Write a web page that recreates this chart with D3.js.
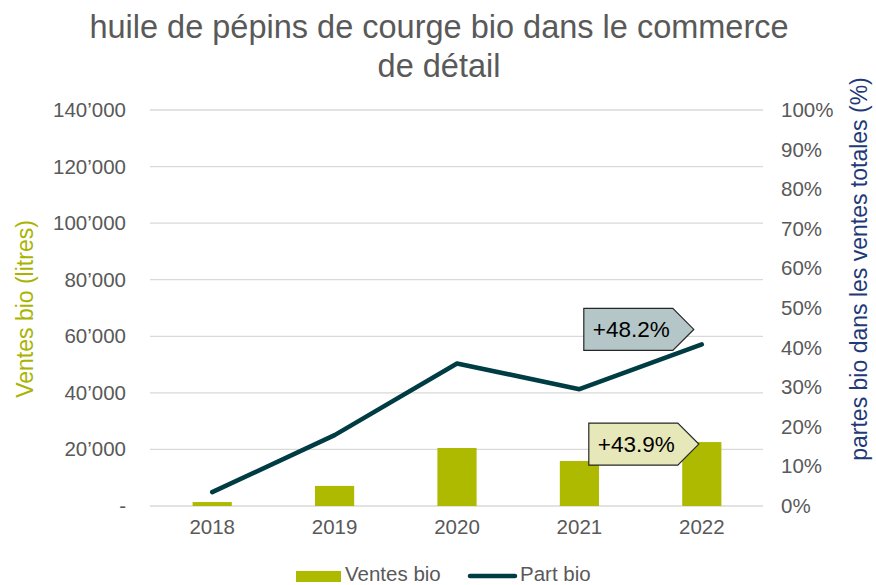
<!DOCTYPE html>
<html>
<head>
<meta charset="utf-8">
<script src="https://cdn.jsdelivr.net/npm/d3@7"></script>
<style>
  body { margin: 0; background: #fff; }
  text { font-family: "Liberation Sans", Arial, sans-serif; }
</style>
</head>
<body>
<div id="chart"></div>
<script>
// data
var years = ["2018", "2019", "2020", "2021", "2022"];
var ventesBio = [1400, 7100, 20500, 15900, 22600];
var partBio = [3.5, 17.9, 36.0, 29.5, 40.8];
var leftTicks = [0, 20000, 40000, 60000, 80000, 100000, 120000, 140000];
var rightTicks = [0, 10, 20, 30, 40, 50, 60, 70, 80, 90, 100];
var callouts = [
  {label: "+48.2%", series: "part", fill: "#b4c6c7"},
  {label: "+43.9%", series: "ventes", fill: "#e6e8b9"}
];

var width = 876, height = 585;
var margin = {top: 110, right: 113, bottom: 79, left: 151};
var tickSize = 20.5;

var svg = d3.select("#chart").append("svg")
  .attr("width", width)
  .attr("height", height);

var x = d3.scaleBand()
  .domain(years)
  .range([margin.left, width - margin.right])
  .paddingInner(0.68)
  .paddingOuter(0.34);

var yL = d3.scaleLinear().domain([0, 140000]).range([height - margin.bottom, margin.top]);
var yR = d3.scaleLinear().domain([0, 100]).range([height - margin.bottom, margin.top]);

var fmtL = function(d){
  if (d === 0) return "-";
  return d3.format(",")(d).replace(/,/g, "\u2019");
};

// gridlines
svg.append("g").attr("class", "grid")
  .selectAll("line")
  .data(leftTicks)
  .enter().append("line")
  .attr("x1", margin.left - 1)
  .attr("x2", width - margin.right)
  .attr("y1", function(d){ return yL(d); })
  .attr("y2", function(d){ return yL(d); })
  .attr("stroke", "#d9d9d9")
  .attr("stroke-width", 1.3);

// left axis
var axL = svg.append("g")
  .attr("transform", "translate(" + (margin.left - 1) + ",0)")
  .call(d3.axisLeft(yL).tickValues(leftTicks).tickFormat(fmtL).tickSize(0).tickPadding(24));
axL.select(".domain").remove();
axL.selectAll("text").attr("font-size", tickSize).attr("fill", "#595959")
  .attr("font-family", "Liberation Sans, Arial, sans-serif");

// right axis
var axR = svg.append("g")
  .attr("transform", "translate(" + (width - margin.right) + ",0)")
  .call(d3.axisRight(yR).tickValues(rightTicks).tickFormat(function(d){ return d + "%"; }).tickSize(0).tickPadding(18));
axR.select(".domain").remove();
axR.selectAll("text").attr("font-size", tickSize).attr("fill", "#595959")
  .attr("font-family", "Liberation Sans, Arial, sans-serif");

// x axis
var axX = svg.append("g")
  .attr("transform", "translate(0," + (height - margin.bottom) + ")")
  .call(d3.axisBottom(x).tickSize(0).tickPadding(13));
axX.select(".domain").remove();
axX.selectAll("text").attr("font-size", tickSize).attr("fill", "#595959")
  .attr("font-family", "Liberation Sans, Arial, sans-serif");

// bars
svg.append("g").selectAll("rect")
  .data(years)
  .enter().append("rect")
  .attr("x", function(d){ return x(d); })
  .attr("width", x.bandwidth())
  .attr("y", function(d, i){ return yL(ventesBio[i]); })
  .attr("height", function(d, i){ return yL(0) - yL(ventesBio[i]); })
  .attr("fill", "#adba00");

// line
var line = d3.line()
  .x(function(d, i){ return x(years[i]) + x.bandwidth() / 2; })
  .y(function(d){ return yR(d); });

svg.append("path")
  .datum(partBio)
  .attr("d", line)
  .attr("fill", "none")
  .attr("stroke", "#003c43")
  .attr("stroke-width", 4.5)
  .attr("stroke-linecap", "round")
  .attr("stroke-linejoin", "round");

// callouts (arrow shaped labels pointing right)
callouts.forEach(function(c){
  var last = years.length - 1;
  var cx = x(years[last]) + x.bandwidth() / 2;
  var tipX, tipY;
  if (c.series === "part") {
    tipX = cx - 8;
    tipY = yR(partBio[last]) - 15;
  } else {
    tipX = cx - 3;
    tipY = yL(ventesBio[last]) + 2;
  }
  var w = 89, h = 42, a = 21;
  var x0 = tipX - a - w;
  var pts = [[x0, tipY - h/2], [x0 + w, tipY - h/2], [tipX, tipY],
             [x0 + w, tipY + h/2], [x0, tipY + h/2]];
  svg.append("path")
    .attr("d", "M" + pts.join("L") + "Z")
    .attr("fill", c.fill)
    .attr("stroke", "#262626")
    .attr("stroke-width", 1.2);
  svg.append("text")
    .attr("x", x0 + 9)
    .attr("y", tipY + 8)
    .attr("font-size", 22.5)
    .attr("fill", "#000")
    .text(c.label);
});

// title
var title = svg.append("text")
  .attr("text-anchor", "middle")
  .attr("font-size", 32.5)
  .attr("fill", "#595959");
title.append("tspan").attr("x", 439).attr("y", 38).text("huile de pépins de courge bio dans le commerce");
title.append("tspan").attr("x", 439).attr("y", 77).text("de détail");

// axis titles
svg.append("text")
  .attr("transform", "translate(33,309) rotate(-90)")
  .attr("text-anchor", "middle")
  .attr("font-size", 23)
  .attr("fill", "#a8b400")
  .text("Ventes bio (litres)");

svg.append("text")
  .attr("transform", "translate(867,269) rotate(-90)")
  .attr("text-anchor", "middle")
  .attr("font-size", 23)
  .attr("fill", "#1f3a78")
  .text("partes bio dans les ventes totales (%)");

// legend
var lg = svg.append("g");
lg.append("rect")
  .attr("x", 296).attr("y", 571).attr("width", 45).attr("height", 11)
  .attr("fill", "#adba00");
lg.append("text")
  .attr("x", 345).attr("y", 581)
  .attr("font-size", 20.5).attr("fill", "#595959")
  .text("Ventes bio");
lg.append("line")
  .attr("x1", 470).attr("x2", 515).attr("y1", 576).attr("y2", 576)
  .attr("stroke", "#003c43").attr("stroke-width", 4.5).attr("stroke-linecap", "round");
lg.append("text")
  .attr("x", 520).attr("y", 581)
  .attr("font-size", 20.5).attr("fill", "#595959")
  .text("Part bio");
</script>
</body>
</html>
